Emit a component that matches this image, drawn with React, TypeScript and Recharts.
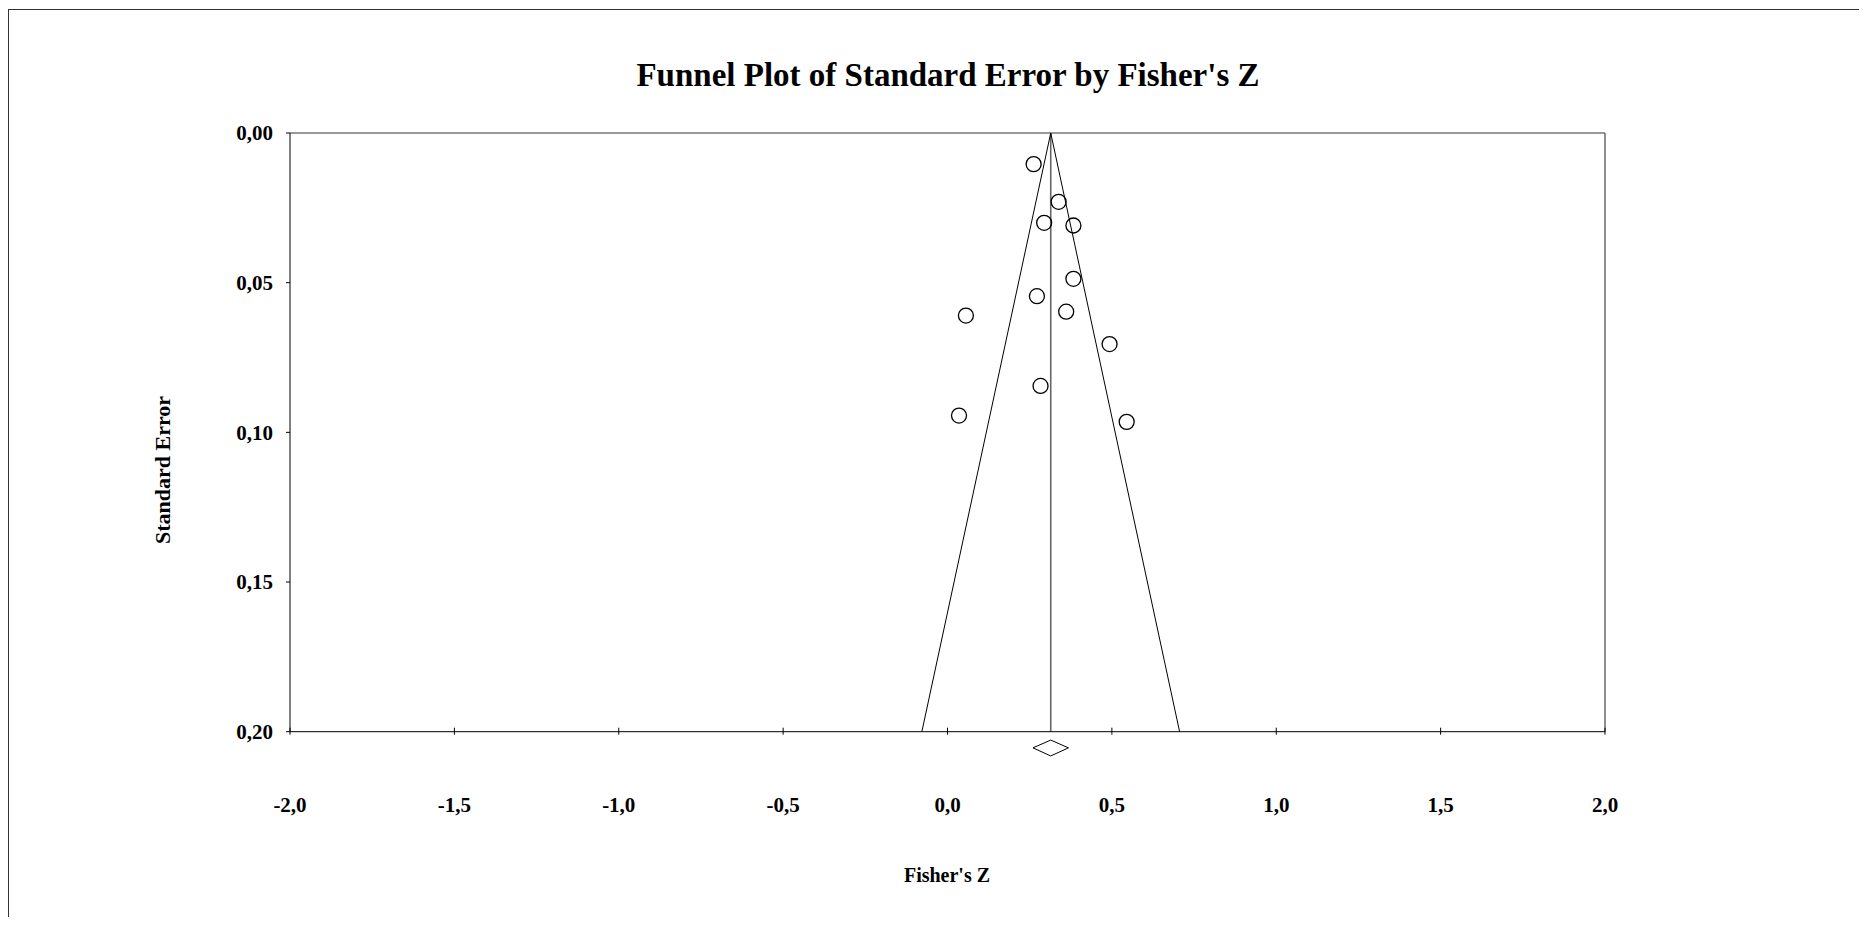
import React from 'react';
import { ScatterChart, Scatter, XAxis, YAxis, ReferenceLine } from 'recharts';

// Study data
const zValues = [0.262, 0.338, 0.294, 0.383, 0.383, 0.272, 0.361, 0.056, 0.493, 0.283, 0.035, 0.545];
const seValues = [0.0104, 0.023, 0.030, 0.0309, 0.0487, 0.0545, 0.0597, 0.061, 0.0705, 0.0845, 0.0944, 0.0965];

// Axis ticks
const xTicks = [-2, -1.5, -1, -0.5, 0, 0.5, 1, 1.5, 2];
const yTicks = [0, 0.05, 0.1, 0.15, 0.2];

// Funnel and summary diamond
const meanZ = 0.314;
const funnelLeftZ = -0.078;
const funnelRightZ = 0.706;
const maxSE = 0.2;
const ciLowZ = 0.26;
const ciHighZ = 0.368;
const diamondMidSE = 0.2054;
const diamondTopSE = 0.2028;
const diamondBottomSE = 0.2081;

const points = zValues.map((z, i) => ({ z, se: seValues[i] }));

const FONT = '"Liberation Serif", "Times New Roman", serif';
const X_TICK_OFFSET = 65;

const fmtX = (v: number) => v.toFixed(1).replace('.', ',');
const fmtY = (v: number) => v.toFixed(2).replace('.', ',');

const XTick = (props: any) => {
  const { x, y, payload } = props;
  return (
    <g>
      <line x1={x} x2={x} y1={y - X_TICK_OFFSET - 4} y2={y - X_TICK_OFFSET + 3} stroke="#000" strokeWidth={1} />
      <text x={x} y={y} dy="0.71em" textAnchor="middle" fontFamily={FONT} fontWeight="bold" fontSize={21} fill="#000">
        {fmtX(payload.value)}
      </text>
    </g>
  );
};

const Circle = (props: any) => {
  const { cx, cy } = props;
  return <circle cx={cx} cy={cy} r={7.5} fill="none" stroke="#000" strokeWidth={1.3} />;
};

export default function App() {
  const W = 1851;
  const H = 909;
  return (
    <div style={{ position: 'relative', width: W, height: H }}>
      <div
        style={{
          position: 'absolute',
          left: 0,
          top: 1,
          width: 1859,
          height: H - 1,
          borderTop: '1px solid #333',
          borderLeft: '1px solid #333',
          boxSizing: 'border-box',
        }}
      />
      <div style={{ position: 'absolute', left: 0, top: 0 }}>
        <ScatterChart width={W} height={H} margin={{ top: 125, right: 254, bottom: 115.3, left: 222 }}>
          <XAxis
            type="number"
            dataKey="z"
            domain={[-2, 2]}
            ticks={xTicks}
            allowDataOverflow
            height={70}
            tickSize={0}
            tickMargin={X_TICK_OFFSET}
            tickLine={false}
            axisLine={{ stroke: '#000', strokeWidth: 1 }}
            tick={<XTick />}
            interval={0}
          />
          <YAxis
            type="number"
            dataKey="se"
            domain={[0, maxSE]}
            reversed
            ticks={yTicks}
            allowDataOverflow
            width={60}
            tickSize={4}
            tickMargin={13}
            tickFormatter={fmtY}
            interval={0}
            axisLine={{ stroke: '#000', strokeWidth: 1 }}
            tickLine={{ stroke: '#000' }}
            tick={{ fontFamily: FONT, fontWeight: 'bold', fontSize: 21, fill: '#000' }}
          />
          <ReferenceLine y={0} stroke="#777" strokeWidth={1.6} />
          <ReferenceLine x={2} stroke="#444" strokeWidth={1.2} />
          <ReferenceLine
            segment={[{ x: meanZ, y: 0 }, { x: meanZ, y: maxSE }]}
            stroke="#666"
            strokeWidth={1.6}
          />
          <ReferenceLine
            segment={[{ x: funnelLeftZ, y: maxSE }, { x: meanZ, y: 0 }]}
            stroke="#000"
            strokeWidth={1}
          />
          <ReferenceLine
            segment={[{ x: meanZ, y: 0 }, { x: funnelRightZ, y: maxSE }]}
            stroke="#000"
            strokeWidth={1}
          />
          <ReferenceLine
            segment={[{ x: ciLowZ, y: diamondMidSE }, { x: meanZ, y: diamondTopSE }]}
            stroke="#000"
            strokeWidth={1}
            ifOverflow="visible"
          />
          <ReferenceLine
            segment={[{ x: meanZ, y: diamondTopSE }, { x: ciHighZ, y: diamondMidSE }]}
            stroke="#000"
            strokeWidth={1}
            ifOverflow="visible"
          />
          <ReferenceLine
            segment={[{ x: ciHighZ, y: diamondMidSE }, { x: meanZ, y: diamondBottomSE }]}
            stroke="#000"
            strokeWidth={1}
            ifOverflow="visible"
          />
          <ReferenceLine
            segment={[{ x: meanZ, y: diamondBottomSE }, { x: ciLowZ, y: diamondMidSE }]}
            stroke="#000"
            strokeWidth={1}
            ifOverflow="visible"
          />
          <Scatter data={points} shape={<Circle />} isAnimationActive={false} />
        </ScatterChart>
      </div>
      <svg
        width={W}
        height={H}
        style={{ position: 'absolute', left: 0, top: 0, pointerEvents: 'none' }}
      >
        <text x={940} y={78} textAnchor="middle" fontFamily={FONT} fontWeight="bold" fontSize={33} fill="#000">
          Funnel Plot of Standard Error by Fisher's Z
        </text>
        <text x={939} y={874} textAnchor="middle" fontFamily={FONT} fontWeight="bold" fontSize={20} fill="#000">
          Fisher's Z
        </text>
        <text
          x={162}
          y={462}
          textAnchor="middle"
          fontFamily={FONT}
          fontWeight="bold"
          fontSize={22}
          fill="#000"
          transform="rotate(-90 162 462)"
        >
          Standard Error
        </text>
      </svg>
    </div>
  );
}
